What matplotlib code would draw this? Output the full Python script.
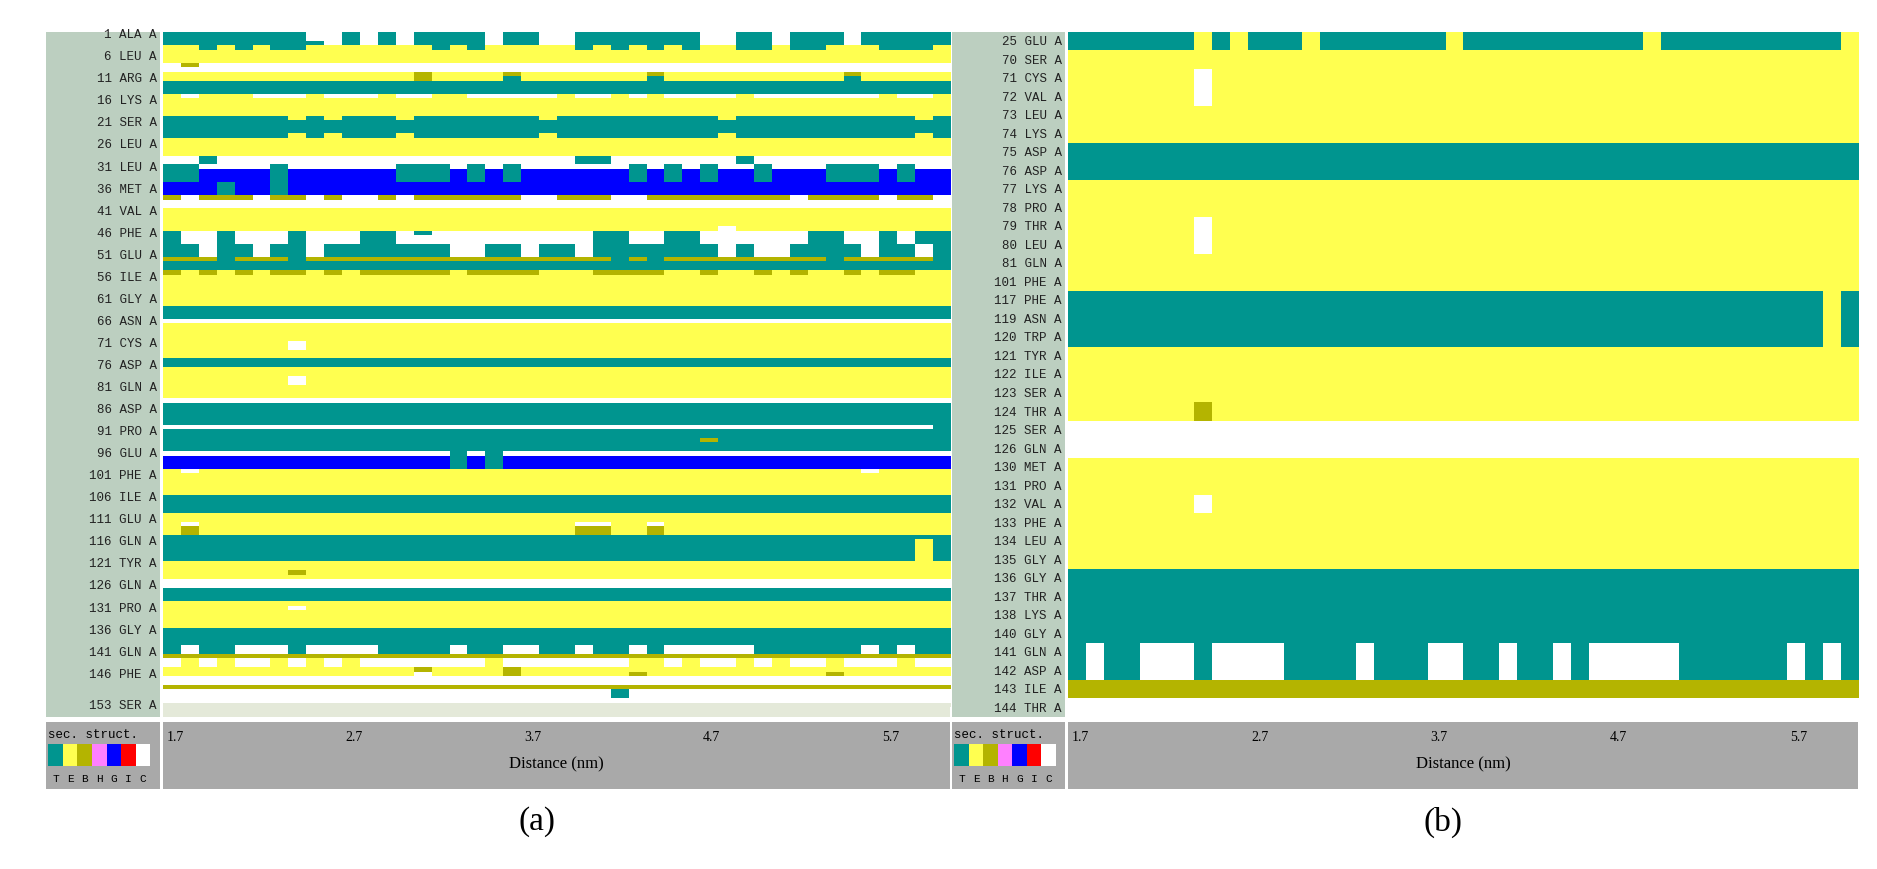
import numpy as np
import matplotlib
matplotlib.use("Agg")
import matplotlib.pyplot as plt
from matplotlib.colors import ListedColormap

W, H = 1877, 870
STATES = "TEBHGIC-"
COLORS = ["#00958f", "#ffff50", "#b4b400", "#ff80ff", "#0000ff", "#ff0000", "#ffffff", "#e4e9d9"]
LEG_STATES = ["T", "E", "B", "H", "G", "I", "C"]

distance_ticks = [1.7, 2.7, 3.7, 4.7, 5.7]
n_cols = 44  # 1.7 .. 6.0 nm, 0.1 nm per column

# ---- panel (a) ----
a_label_res = [1, 6, 11, 16, 21, 26, 31, 36, 41, 46, 51, 56, 61, 66, 71, 76, 81, 86, 91, 96,
               101, 106, 111, 116, 121, 126, 131, 136, 141, 146, 153]
a_label_names = ["ALA", "LEU", "ARG", "LYS", "SER", "LEU", "LEU", "MET", "VAL", "PHE", "GLU", "ILE",
                 "GLY", "ASN", "CYS", "ASP", "GLN", "ASP", "PRO", "GLU", "PHE", "ILE", "GLU", "GLN",
                 "TYR", "GLN", "PRO", "GLY", "GLN", "PHE", "SER"]
a_nrows = 153
a_bands = [(1, 3, 'T'), (4, 7, 'E'), (8, 9, 'C'), (10, 11, 'E'), (12, 14, 'T'), (15, 19, 'E'),
           (20, 24, 'T'), (25, 28, 'E'), (29, 31, 'C'), (32, 37, 'G'), (38, 40, 'C'), (41, 45, 'E'),
           (46, 48, 'C'), (49, 51, 'T'), (52, 52, 'B'), (53, 54, 'T'), (55, 62, 'E'), (63, 65, 'T'),
           (66, 66, 'C'), (67, 74, 'E'), (75, 76, 'T'), (77, 83, 'E'), (84, 84, 'C'), (85, 89, 'T'),
           (90, 90, 'C'), (91, 95, 'T'), (96, 96, 'C'), (97, 99, 'G'), (100, 105, 'E'), (106, 109, 'T'),
           (110, 114, 'E'), (115, 120, 'T'), (121, 124, 'E'), (125, 126, 'C'), (127, 129, 'T'),
           (130, 135, 'E'), (136, 141, 'T'), (142, 142, 'B'), (143, 144, 'C'), (145, 146, 'E'),
           (147, 148, 'C'), (149, 149, 'B'), (150, 152, 'C'), (153, 153, '-')]
a_except = [
    (1, 3, [8, 9, 11, 13, 18, 21, 22, 30, 31, 34, 38], 'C'), (3, 3, [8], 'T'),
    (4, 4, [2, 4, 6, 7, 15, 17, 23, 25, 27, 29, 32, 33, 35, 36, 40, 41, 42], 'T'),
    (8, 8, [1], 'B'),
    (10, 11, [14], 'B'), (10, 10, [19, 27, 38], 'B'), (11, 11, [19, 27, 38], 'T'),
    (15, 15, [1, 5, 6, 7, 9, 10, 11, 13, 14, 17, 18, 19, 20, 21, 23, 24, 26, 28, 29, 30, 31, 33, 34, 35,
              36, 37, 38, 39, 41, 42], 'C'),
    (20, 20, [7, 9, 13, 21, 31, 42], 'E'), (24, 24, [7, 9, 13, 21, 31, 42], 'E'),
    (29, 30, [2, 23, 24, 32], 'T'),
    (31, 34, [0, 1, 6, 13, 14, 15, 17, 19, 26, 28, 30, 33, 37, 38, 39, 41], 'T'),
    (35, 37, [3, 6], 'T'),
    (38, 38, [0, 2, 3, 4, 6, 7, 9, 12, 14, 15, 16, 17, 18, 19, 22, 23, 24, 27, 28, 29, 30, 31, 32, 33,
              34, 36, 37, 38, 39, 41, 42], 'B'),
    (45, 45, [31], 'C'),
    (46, 48, [0, 3, 7, 11, 12, 24, 25, 28, 29, 36, 37, 40, 42, 43], 'T'), (46, 46, [14], 'T'),
    (49, 51, [2, 5, 8, 16, 17, 20, 23, 31, 33, 34, 39, 42], 'C'),
    (52, 52, [3, 7, 25, 27, 37, 43], 'T'),
    (55, 55, [0, 2, 4, 6, 7, 9, 11, 12, 13, 14, 15, 17, 18, 19, 20, 24, 25, 26, 27, 30, 33, 35, 38, 40,
              41], 'B'),
    (71, 72, [7], 'C'), (79, 80, [7], 'C'),
    (90, 90, [43], 'T'), (93, 93, [30], 'B'),
    (96, 99, [16, 18], 'T'),
    (100, 100, [1, 39], 'C'),
    (112, 112, [1, 23, 24, 27], 'C'), (113, 114, [1, 23, 24, 27], 'B'),
    (116, 120, [42], 'E'),
    (123, 123, [7], 'B'), (131, 131, [7], 'C'),
    (140, 141, [1, 4, 5, 6, 8, 9, 10, 11, 16, 19, 20, 23, 26, 28, 29, 30, 31, 32, 39, 41], 'C'),
    (143, 144, [1, 3, 6, 8, 10, 18, 26, 27, 29, 32, 34, 37, 41], 'E'),
    (145, 145, [14], 'B'), (146, 146, [14], 'C'), (145, 146, [19], 'B'), (146, 146, [26, 37], 'B'),
    (150, 151, [25], 'T'),
]

# ---- panel (b) ----
b_res = [25, 70, 71, 72, 73, 74, 75, 76, 77, 78, 79, 80, 81, 101, 117, 119, 120, 121, 122, 123, 124,
         125, 126, 130, 131, 132, 133, 134, 135, 136, 137, 138, 140, 141, 142, 143, 144]
b_names = ["GLU", "SER", "CYS", "VAL", "LEU", "LYS", "ASP", "ASP", "LYS", "PRO", "THR", "LEU", "GLN",
           "PHE", "PHE", "ASN", "TRP", "TYR", "ILE", "SER", "THR", "SER", "GLN", "MET", "PRO", "VAL",
           "PHE", "LEU", "GLY", "GLY", "THR", "LYS", "GLY", "GLN", "ASP", "ILE", "THR"]
b_bands = [(1, 1, 'T'), (2, 6, 'E'), (7, 8, 'T'), (9, 14, 'E'), (15, 17, 'T'), (18, 21, 'E'),
           (22, 23, 'C'), (24, 29, 'E'), (30, 35, 'T'), (36, 36, 'B'), (37, 37, 'C')]
b_except = [(1, 1, [7, 9, 13, 21, 32, 43], 'E'), (3, 4, [7], 'C'), (11, 12, [7], 'C'),
            (15, 17, [42], 'E'), (21, 21, [7], 'B'), (26, 26, [7], 'C'),
            (34, 35, [1, 4, 5, 6, 8, 9, 10, 11, 16, 20, 21, 24, 27, 29, 30, 31, 32, 33, 40, 42], 'C')]


def build(nrows, bands, exc):
    g = np.full((nrows, n_cols), STATES.index('C'))
    for r0, r1, s in bands:
        g[r0 - 1:r1, :] = STATES.index(s)
    for r0, r1, cols, s in exc:
        for c in cols:
            g[r0 - 1:r1, c] = STATES.index(s)
    return g


cmap = ListedColormap(COLORS)
fig = plt.figure(figsize=(W / 100, H / 100), dpi=100)


def ax_px(x0, y0, x1, y1, fc):
    ax = fig.add_axes([x0 / W, 1 - y1 / H, (x1 - x0) / W, (y1 - y0) / H])
    ax.set_facecolor(fc)
    for s in ax.spines.values():
        s.set_visible(False)
    ax.set_xticks([]); ax.set_yticks([])
    return ax


mono = "Liberation Mono"
serif = "Liberation Serif"


def panel(xl0, xl1, xp0, xp1, grid, ylim_bottom, label_rows, labels, letter):
    top, bot = 33, 718
    axl = ax_px(xl0, top, xl1, bot, "#bccfc0")
    axl.set_ylim(ylim_bottom, 0.5)
    axl.set_xlim(0, 1)
    for r, t in zip(label_rows, labels):
        axl.text(0.97, r, t, ha="right", va="center", family=mono, fontsize=9, color="#222222")
    axp = ax_px(xp0, top, xp1, bot, "#e4e9d9")
    n = grid.shape[0]
    axp.imshow(grid, cmap=cmap, vmin=-0.5, vmax=len(COLORS) - 0.5, aspect="auto",
               interpolation="nearest", extent=(0, n_cols, n + 0.5, 0.5))
    axp.set_xlim(0, n_cols)
    axp.set_ylim(ylim_bottom, 0.5)
    axg = ax_px(xl0, 723, xl1, 790, "#a9a9a9")
    axg.set_xlim(0, 1); axg.set_ylim(1, 0)
    axg.text(0.02, 0.18, "sec. struct.", family=mono, fontsize=9, va="center", ha="left")
    w = 0.128
    for i, s in enumerate(LEG_STATES):
        axg.add_patch(plt.Rectangle((0.02 + i * w, 0.33), w, 0.33,
                                    color=COLORS[STATES.index(s)], ec="none"))
        axg.text(0.02 + i * w + w / 2, 0.84, s, family=mono, fontsize=8, ha="center", va="center")
    axx = ax_px(xp0, 723, xp1, 790, "#a9a9a9")
    axx.set_xlim(0, n_cols); axx.set_ylim(1, 0)
    for i, d in enumerate(distance_ticks):
        axx.text(i * 10 + 0.2, 0.22, f"{d}", family=serif, fontsize=10, ha="left", va="center")
    axx.text(n_cols / 2, 0.62, "Distance (nm)", family=serif, fontsize=12, ha="center", va="center")
    fig.text(((xp0 + xp1) / 2 - 20) / W, 1 - 822 / H, letter, family=serif, fontsize=24,
             ha="center", va="center")


ga = build(a_nrows, a_bands, a_except)
gb = build(len(b_res), b_bands, b_except)

panel(46, 160, 163, 950, ga, 0.5 + 685 / 4.41, a_label_res,
      [f"{r} {n} A" for r, n in zip(a_label_res, a_label_names)], "(a)")
panel(952, 1065, 1068, 1858, gb, len(b_res) + 0.5, list(range(1, len(b_res) + 1)),
      [f"{r} {n} A" for r, n in zip(b_res, b_names)], "(b)")

fig.savefig("out.png", dpi=100, facecolor="white")
